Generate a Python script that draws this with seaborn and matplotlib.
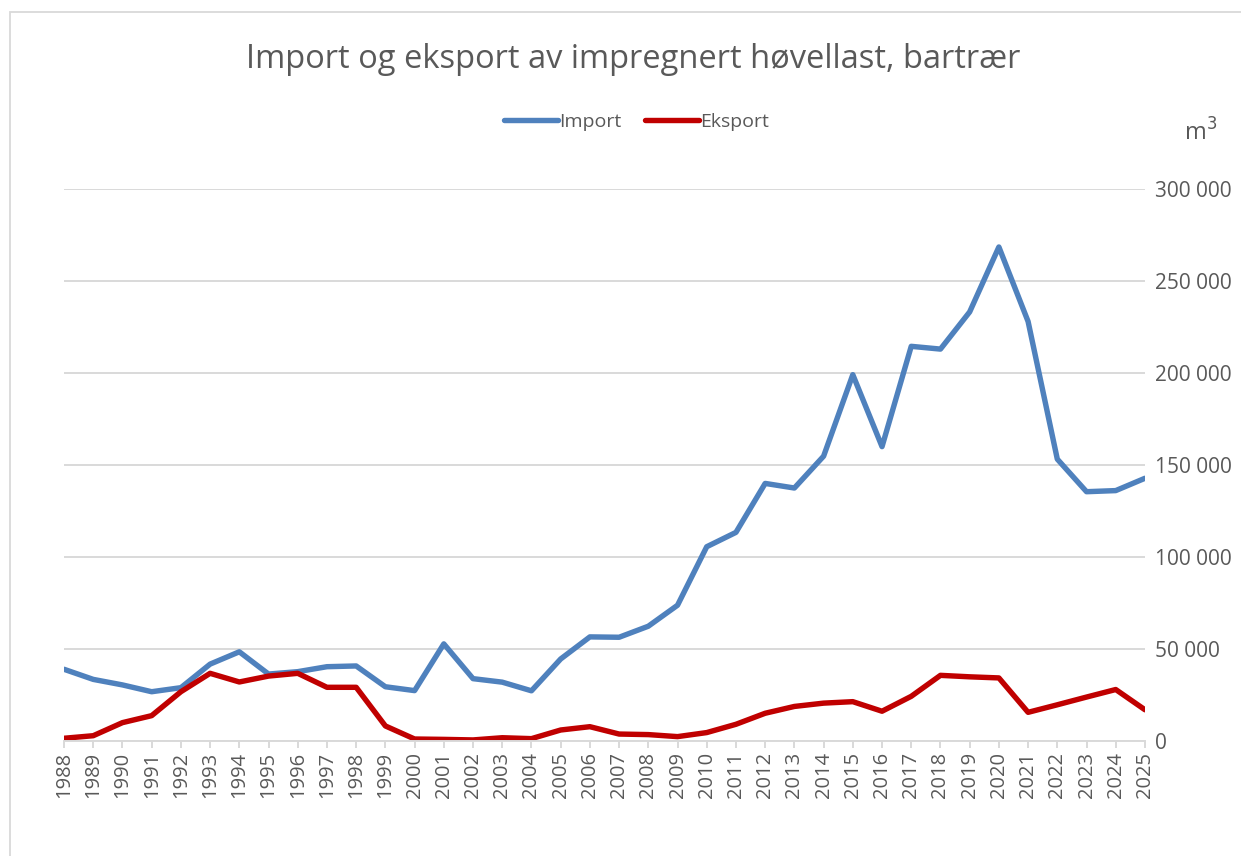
import pandas as pd
import matplotlib
matplotlib.use('Agg')
import matplotlib.pyplot as plt
import seaborn as sns
from matplotlib.ticker import FuncFormatter, MultipleLocator
from matplotlib.patches import Rectangle

# Data (m3)
years = list(range(1988, 2026))
import_m3 = [39000, 33500, 30500, 26800, 29000, 41800, 48500, 36400, 37700, 40400,
             40800, 29500, 27400, 52800, 33900, 32000, 27300, 44600, 56600, 56400,
             62400, 73800, 105600, 113400, 140000, 137500, 154800, 199100, 160000, 214500,
             213000, 233200, 268500, 228000, 153200, 135500, 136100, 142800]
eksport_m3 = [1500, 2900, 10000, 13800, 26800, 36800, 32100, 35300, 36800, 29200,
              29200, 8200, 1100, 900, 600, 1800, 1300, 6000, 7800, 3800,
              3500, 2400, 4600, 9100, 15100, 18800, 20600, 21400, 16200, 24300,
              35700, 34900, 34300, 15600, 19700, 23900, 28000, 17000]

series_names = ['Import', 'Eksport']
colors = {'Import': '#4F81BD', 'Eksport': '#C00000'}

df = pd.DataFrame({
    'År': years * 2,
    'm3': import_m3 + eksport_m3,
    'Serie': ['Import'] * len(years) + ['Eksport'] * len(years),
})

sns.set_style('white')
plt.rcParams['font.family'] = ['Open Sans', 'DejaVu Sans']
grey = '#595959'

fig = plt.figure(figsize=(12.41, 8.56), dpi=100)
ax = fig.add_axes([0.0516, 0.1343, 0.8710, 0.6449])

sns.lineplot(data=df, x='År', y='m3', hue='Serie', hue_order=series_names,
             palette=colors, linewidth=3.9, ax=ax, legend=False)

ax.set_xlim(1988, 2025)
ax.set_ylim(0, 300000)
ax.xaxis.set_major_locator(MultipleLocator(1))
ax.yaxis.set_major_locator(MultipleLocator(50000))
ax.yaxis.set_major_formatter(FuncFormatter(lambda v, p: f'{int(v):,}'.replace(',', ' ')))
ax.yaxis.tick_right()
ax.grid(axis='y', color='#d9d9d9', linewidth=1.4)
ax.set_axisbelow(True)
for side in ['top', 'left', 'right']:
    ax.spines[side].set_visible(False)
ax.spines['bottom'].set_color('#d9d9d9')
ax.spines['bottom'].set_linewidth(1.4)
ax.tick_params(axis='y', length=0, pad=7, labelsize=15, labelcolor=grey)
ax.tick_params(axis='x', length=5, width=1.4, color='#d9d9d9', pad=3,
               labelsize=14.5, labelcolor=grey, labelrotation=90, bottom=True)
ax.set_xlabel('')
ax.set_ylabel('')

# legend
handles = [plt.Line2D([], [], color=colors[s], linewidth=3.9, solid_capstyle='round')
           for s in series_names]
fig.legend(handles, series_names, loc='center', bbox_to_anchor=(0.513, 0.858),
           ncol=2, frameon=False, fontsize=14, labelcolor=grey,
           handlelength=2.8, handletextpad=0.05, columnspacing=1.2)

fig.text(0.510, 0.931, 'Import og eksport av impregnert høvellast, bartrær',
         ha='center', va='center', fontsize=23.5, color=grey)
fig.text(0.954, 0.845, 'm$^3$', ha='left', va='center', fontsize=17, color=grey)

# chart frame
fig.patches.append(Rectangle((10 / 1241, -0.1), 1.2, 1.0 - 12 / 856 + 0.1,
                             transform=fig.transFigure, fill=False,
                             edgecolor='#d9d9d9', linewidth=1.3))

fig.savefig('out.png', dpi=100)
